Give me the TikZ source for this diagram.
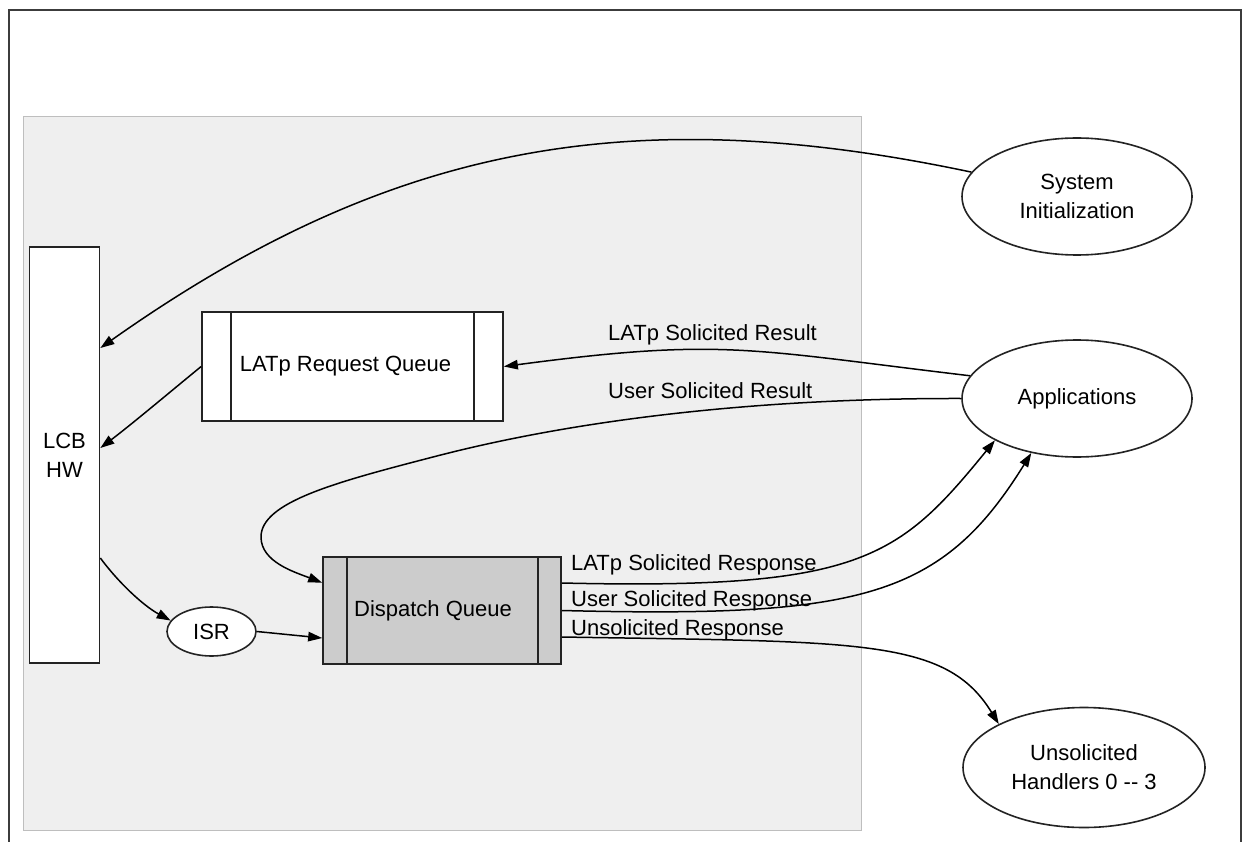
\documentclass[tikz,border=0pt]{standalone}
\usepackage{fontspec}
\setmainfont{Liberation Sans}
\usetikzlibrary{arrows.meta,shapes.geometric}
\definecolor{regionfill}{RGB}{239,239,239}
\definecolor{regionline}{RGB}{190,190,190}
\definecolor{framecol}{RGB}{60,60,60}
\definecolor{queuefill}{RGB}{204,204,204}
\definecolor{edgecol}{RGB}{35,35,35}
\begin{document}
\begin{tikzpicture}[x=1pt,y=-1pt,
  every node/.style={font=\fontsize{22}{29}\selectfont},
  boxnode/.style={draw=edgecol, line width=1.7pt, fill=white, inner sep=0pt, align=center},
  ellnode/.style={ellipse, draw=edgecol, line width=1.6pt, fill=white, inner sep=0pt, align=center},
  divider/.style={draw=edgecol, line width=1.7pt},
  conn/.style={draw=black, line width=1.5pt, -{Triangle[length=14pt,width=9.5pt]}},
  lbl/.style={anchor=base west, inner sep=0pt},
]
\useasboundingbox (0,0) rectangle (1249,842);
\fill[white] (0,0) rectangle (1249,842);
\draw[framecol, line width=2.2pt] (9,842) -- (9,10) -- (1241,10) -- (1241,842);
\draw[regionline, fill=regionfill, line width=1pt] (23,117) rectangle (861,830);

% nodes
\node[boxnode, minimum width=70pt, minimum height=416pt] (lcb) at (64.5,455) {LCB\\HW};
\node[boxnode, minimum width=301pt, minimum height=109pt] (req) at (352.5,366.5) {};
\node (reqtext) at ([xshift=-7pt]req.center) {LATp Request Queue};
\draw[divider] ([xshift=30pt]req.north west) -- ([xshift=30pt]req.south west);
\draw[divider] ([xshift=-30pt]req.north east) -- ([xshift=-30pt]req.south east);

\node[boxnode, fill=queuefill, minimum width=238pt, minimum height=107pt] (disp) at (442,610.5) {};
\node (disptext) at ([xshift=-9pt]disp.center) {Dispatch Queue};
\draw[divider] ([xshift=25pt]disp.north west) -- ([xshift=25pt]disp.south west);
\draw[divider] ([xshift=-24pt]disp.north east) -- ([xshift=-24pt]disp.south east);

\node[ellnode, minimum width=89pt, minimum height=49pt] (isr) at (211.5,631.5) {ISR};
\node[ellnode, minimum width=230pt, minimum height=117pt] (sys) at (1077,196.5) {System\\Initialization};
\node[ellnode, minimum width=230pt, minimum height=117pt] (app) at (1077,398.5) {Applications};
\node[ellnode, minimum width=242pt, minimum height=120pt] (unsol) at (1084,767.5) {Unsolicited\\Handlers 0 -{}- 3};

% connectors
\draw[conn] (sys.167) .. controls (628,99.5) and (388,145) .. ([yshift=107pt]lcb.east);
\draw[conn] (req.west) .. controls (170,392) and (132,424) .. ([yshift=7pt]lcb.east);
\draw[conn] ([yshift=-103pt]lcb.east) .. controls (118,582) and (143,605.5) .. (isr.165);
\draw[conn] (isr.east) -- ([yshift=-27.5pt]disp.west);
\draw[conn] (app.168) .. controls (750,349.7) and (723,337.4) .. (req.east);
\draw[conn] (app.west) .. controls (761,398) and (578,419) .. (433,457)
   .. controls (336.2,482.1) and (261,502) .. (261,537)
   .. controls (261,562) and (294.9,572.2) .. ([yshift=27.8pt]disp.west);
\draw[conn] ([yshift=27.5pt]disp.east) .. controls (861,590) and (898.5,558.5) .. (app.207);
\draw[conn] (disp.east) .. controls (861,618) and (941.75,597.5) .. (app.230);
\draw[conn] ([yshift=-26.5pt]disp.east) .. controls (861,642) and (946,638) .. (unsol.153);

% labels
\node[lbl] (l1) at (608,340.7) {LATp Solicited Result};
\node[lbl] (l2) at (608,398) {User Solicited Result};
\node[lbl] (l3) at (571,570.7) {LATp Solicited Response};
\node[lbl] (l4) at (571,606.7) {User Solicited Response};
\node[lbl] (l5) at (571,635) {Unsolicited Response};
\end{tikzpicture}
\end{document}
